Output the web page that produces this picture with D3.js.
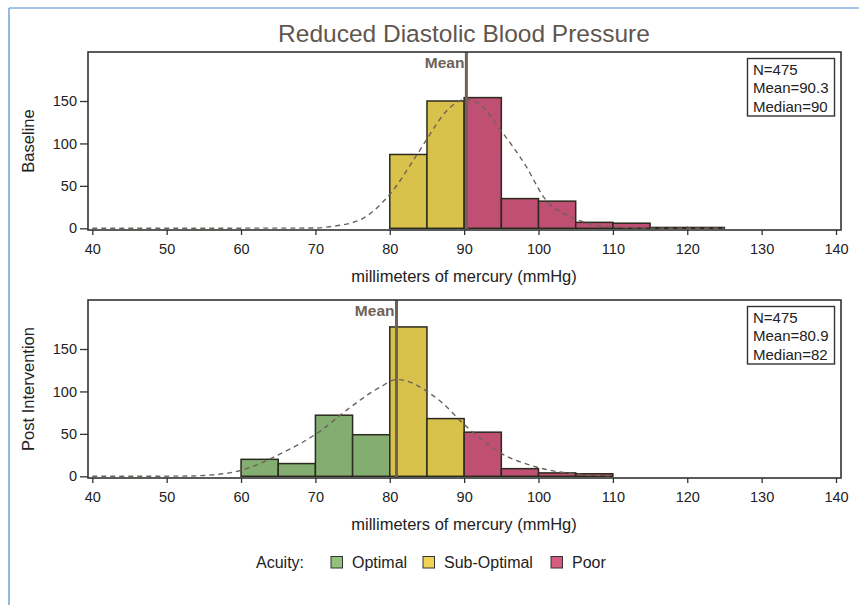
<!DOCTYPE html>
<html lang="en">
<head>
<meta charset="utf-8">
<title>Reduced Diastolic Blood Pressure</title>
<script src="https://cdn.jsdelivr.net/npm/d3@7"></script>
<style>
  body { margin: 0; background: #fff; }
  svg { display: block; font-family: Arial, "Liberation Sans", sans-serif; }
  .tick text { font-family: Arial, "Liberation Sans", sans-serif; font-size: 14.5px; fill: #222; }
  .tick line { stroke: #333; stroke-width: 1.3; }
</style>
</head>
<body>
<script>
// values
const xTicks = [40, 50, 60, 70, 80, 90, 100, 110, 120, 130, 140];
const yTicks = [0, 50, 100, 150];

const baselineBins = [80, 85, 90, 95, 100, 105, 110, 115, 120];
const baselineCounts = [87, 150, 154, 35, 32, 7, 6, 1, 1];
const baselineAcuity = ["Sub-Optimal", "Sub-Optimal", "Poor", "Poor", "Poor", "Poor", "Poor", "Poor", "Poor"];
const baselineStats = ["N=475", "Mean=90.3", "Median=90"];
const baselineMean = 90.3;
// dashed normal curve
const baselineCurveX = [40, 70, 72, 76, 80, 83.6, 85.2, 87.6, 90.3, 92.5, 94.8, 98.4, 100.6, 104.7, 110, 115, 125];
const baselineCurveY = [0, 0.3, 2, 10, 40, 86, 108, 138, 152, 143, 117, 72, 38, 12, 1.5, 0.2, 0];

const postBins = [60, 65, 70, 75, 80, 85, 90, 95, 100, 105];
const postCounts = [20, 15, 72, 49, 176, 68, 52, 9, 4, 3];
const postAcuity = ["Optimal", "Optimal", "Optimal", "Optimal", "Sub-Optimal", "Sub-Optimal", "Poor", "Poor", "Poor", "Poor"];
const postStats = ["N=475", "Mean=80.9", "Median=82"];
const postMean = 80.9;
const postCurveX = [40, 52, 55, 60, 65.2, 70.6, 74.2, 78.7, 80.9, 83, 85, 87, 90, 94.8, 99.7, 104.7, 110];
const postCurveY = [0, 0.2, 1, 7, 26, 53, 78, 105, 114, 110, 100, 87, 61, 28, 11, 3, 0.5];

const acuityNames = ["Optimal", "Sub-Optimal", "Poor"];
const barColors = ["#84ad71", "#d9c24b", "#c05073"];
const swatchColors = ["#93c17e", "#f0d354", "#d75d80"];

const W = 859, H = 605;
const binWidth = 5;

const svg = d3.select("body").append("svg")
    .attr("width", W)
    .attr("height", H);

// blue outer frame (only top and left visible)
svg.append("line").attr("x1", 9).attr("y1", 8).attr("x2", W).attr("y2", 8)
    .attr("stroke", "#4a8ccb").attr("stroke-width", 1.2);
svg.append("line").attr("x1", 9).attr("y1", 8).attr("x2", 9).attr("y2", H)
    .attr("stroke", "#4a8ccb").attr("stroke-width", 1.2);

svg.append("text")
    .attr("x", 464).attr("y", 42)
    .attr("text-anchor", "middle")
    .attr("font-size", "24.5px")
    .attr("fill", "#5f5650")
    .text("Reduced Diastolic Blood Pressure");

const colorScale = d3.scaleOrdinal().domain(acuityNames).range(barColors);

const frameLeft = 88, frameRight = 841;
const x = d3.scaleLinear().domain([40, 140]).range([92.3, 836]);

function panel(top, label, bins, counts, acuity, stats, mean, cx, cy) {
    const bottom = top + 178;
    const y = d3.scaleLinear().domain([0, 150]).range([top + 176.3, top + 49]);
    const g = svg.append("g");

    // bars
    g.selectAll("rect.bar")
        .data(bins.map((b, i) => ({ b: b, n: counts[i], a: acuity[i] })))
        .enter()
        .append("rect")
        .attr("class", "bar")
        .attr("x", d => x(d.b))
        .attr("y", d => y(d.n))
        .attr("width", d => x(d.b + binWidth) - x(d.b))
        .attr("height", d => y(0) - y(d.n))
        .attr("fill", d => colorScale(d.a))
        .attr("stroke", "#2b2a1e")
        .attr("stroke-width", 1.5);

    // normal curve
    const line = d3.line()
        .x(d => x(d[0]))
        .y(d => y(d[1]))
        .curve(d3.curveMonotoneX);
    g.append("path")
        .datum(cx.map((v, i) => [v, cy[i]]))
        .attr("d", line)
        .attr("fill", "none")
        .attr("stroke", "#6e6259")
        .attr("stroke-width", 1.4)
        .attr("stroke-dasharray", "5,4");

    // mean reference line
    g.append("line")
        .attr("x1", x(mean)).attr("x2", x(mean))
        .attr("y1", top).attr("y2", bottom)
        .attr("stroke", "#6e6259")
        .attr("stroke-width", 3);
    g.append("text")
        .attr("x", x(mean) - 2).attr("y", top + 16)
        .attr("text-anchor", "end")
        .attr("font-size", "15.5px")
        .attr("font-weight", "bold")
        .attr("fill", "#6e6259")
        .text("Mean");

    // frame
    g.append("rect")
        .attr("x", frameLeft).attr("y", top)
        .attr("width", frameRight - frameLeft).attr("height", bottom - top)
        .attr("fill", "none")
        .attr("stroke", "#333")
        .attr("stroke-width", 1.6);

    // axes
    const xAxis = g.append("g")
        .attr("transform", `translate(0,${bottom})`)
        .call(d3.axisBottom(x).tickValues(xTicks).tickSize(5).tickPadding(9));
    xAxis.select(".domain").remove();

    const yAxis = g.append("g")
        .attr("transform", `translate(${frameLeft},0)`)
        .call(d3.axisLeft(y).tickValues(yTicks).tickSize(8).tickPadding(3));
    yAxis.select(".domain").remove();

    g.append("text")
        .attr("x", 464).attr("y", bottom + 52)
        .attr("text-anchor", "middle")
        .attr("font-size", "16.5px")
        .attr("fill", "#222")
        .text("millimeters of mercury (mmHg)");

    g.append("text")
        .attr("transform", `translate(34,${(top + bottom) / 2}) rotate(-90)`)
        .attr("text-anchor", "middle")
        .attr("font-size", "16.5px")
        .attr("fill", "#222")
        .text(label);

    // stats inset
    g.append("rect")
        .attr("x", 747.5).attr("y", top + 6.5)
        .attr("width", 87).attr("height", 57.5)
        .attr("fill", "#fff")
        .attr("stroke", "#333")
        .attr("stroke-width", 1.4);
    g.selectAll("text.stat")
        .data(stats)
        .enter()
        .append("text")
        .attr("class", "stat")
        .attr("x", 753)
        .attr("y", (d, i) => top + 22.5 + i * 18.7)
        .attr("font-size", "15px")
        .attr("fill", "#222")
        .text(d => d);
}

panel(52, "Baseline", baselineBins, baselineCounts, baselineAcuity, baselineStats, baselineMean, baselineCurveX, baselineCurveY);
panel(300, "Post Intervention", postBins, postCounts, postAcuity, postStats, postMean, postCurveX, postCurveY);

// legend
const legend = svg.append("g").attr("font-size", "16px").attr("fill", "#222");
legend.append("text").attr("x", 256).attr("y", 568).text("Acuity:");
const swatchX = [331, 423, 551];
acuityNames.forEach((name, i) => {
    legend.append("rect")
        .attr("x", swatchX[i]).attr("y", 556.5)
        .attr("width", 11.5).attr("height", 11.5)
        .attr("fill", swatchColors[i])
        .attr("stroke", "#333")
        .attr("stroke-width", 1);
    legend.append("text")
        .attr("x", swatchX[i] + 21).attr("y", 568)
        .text(name);
});
</script>
</body>
</html>
